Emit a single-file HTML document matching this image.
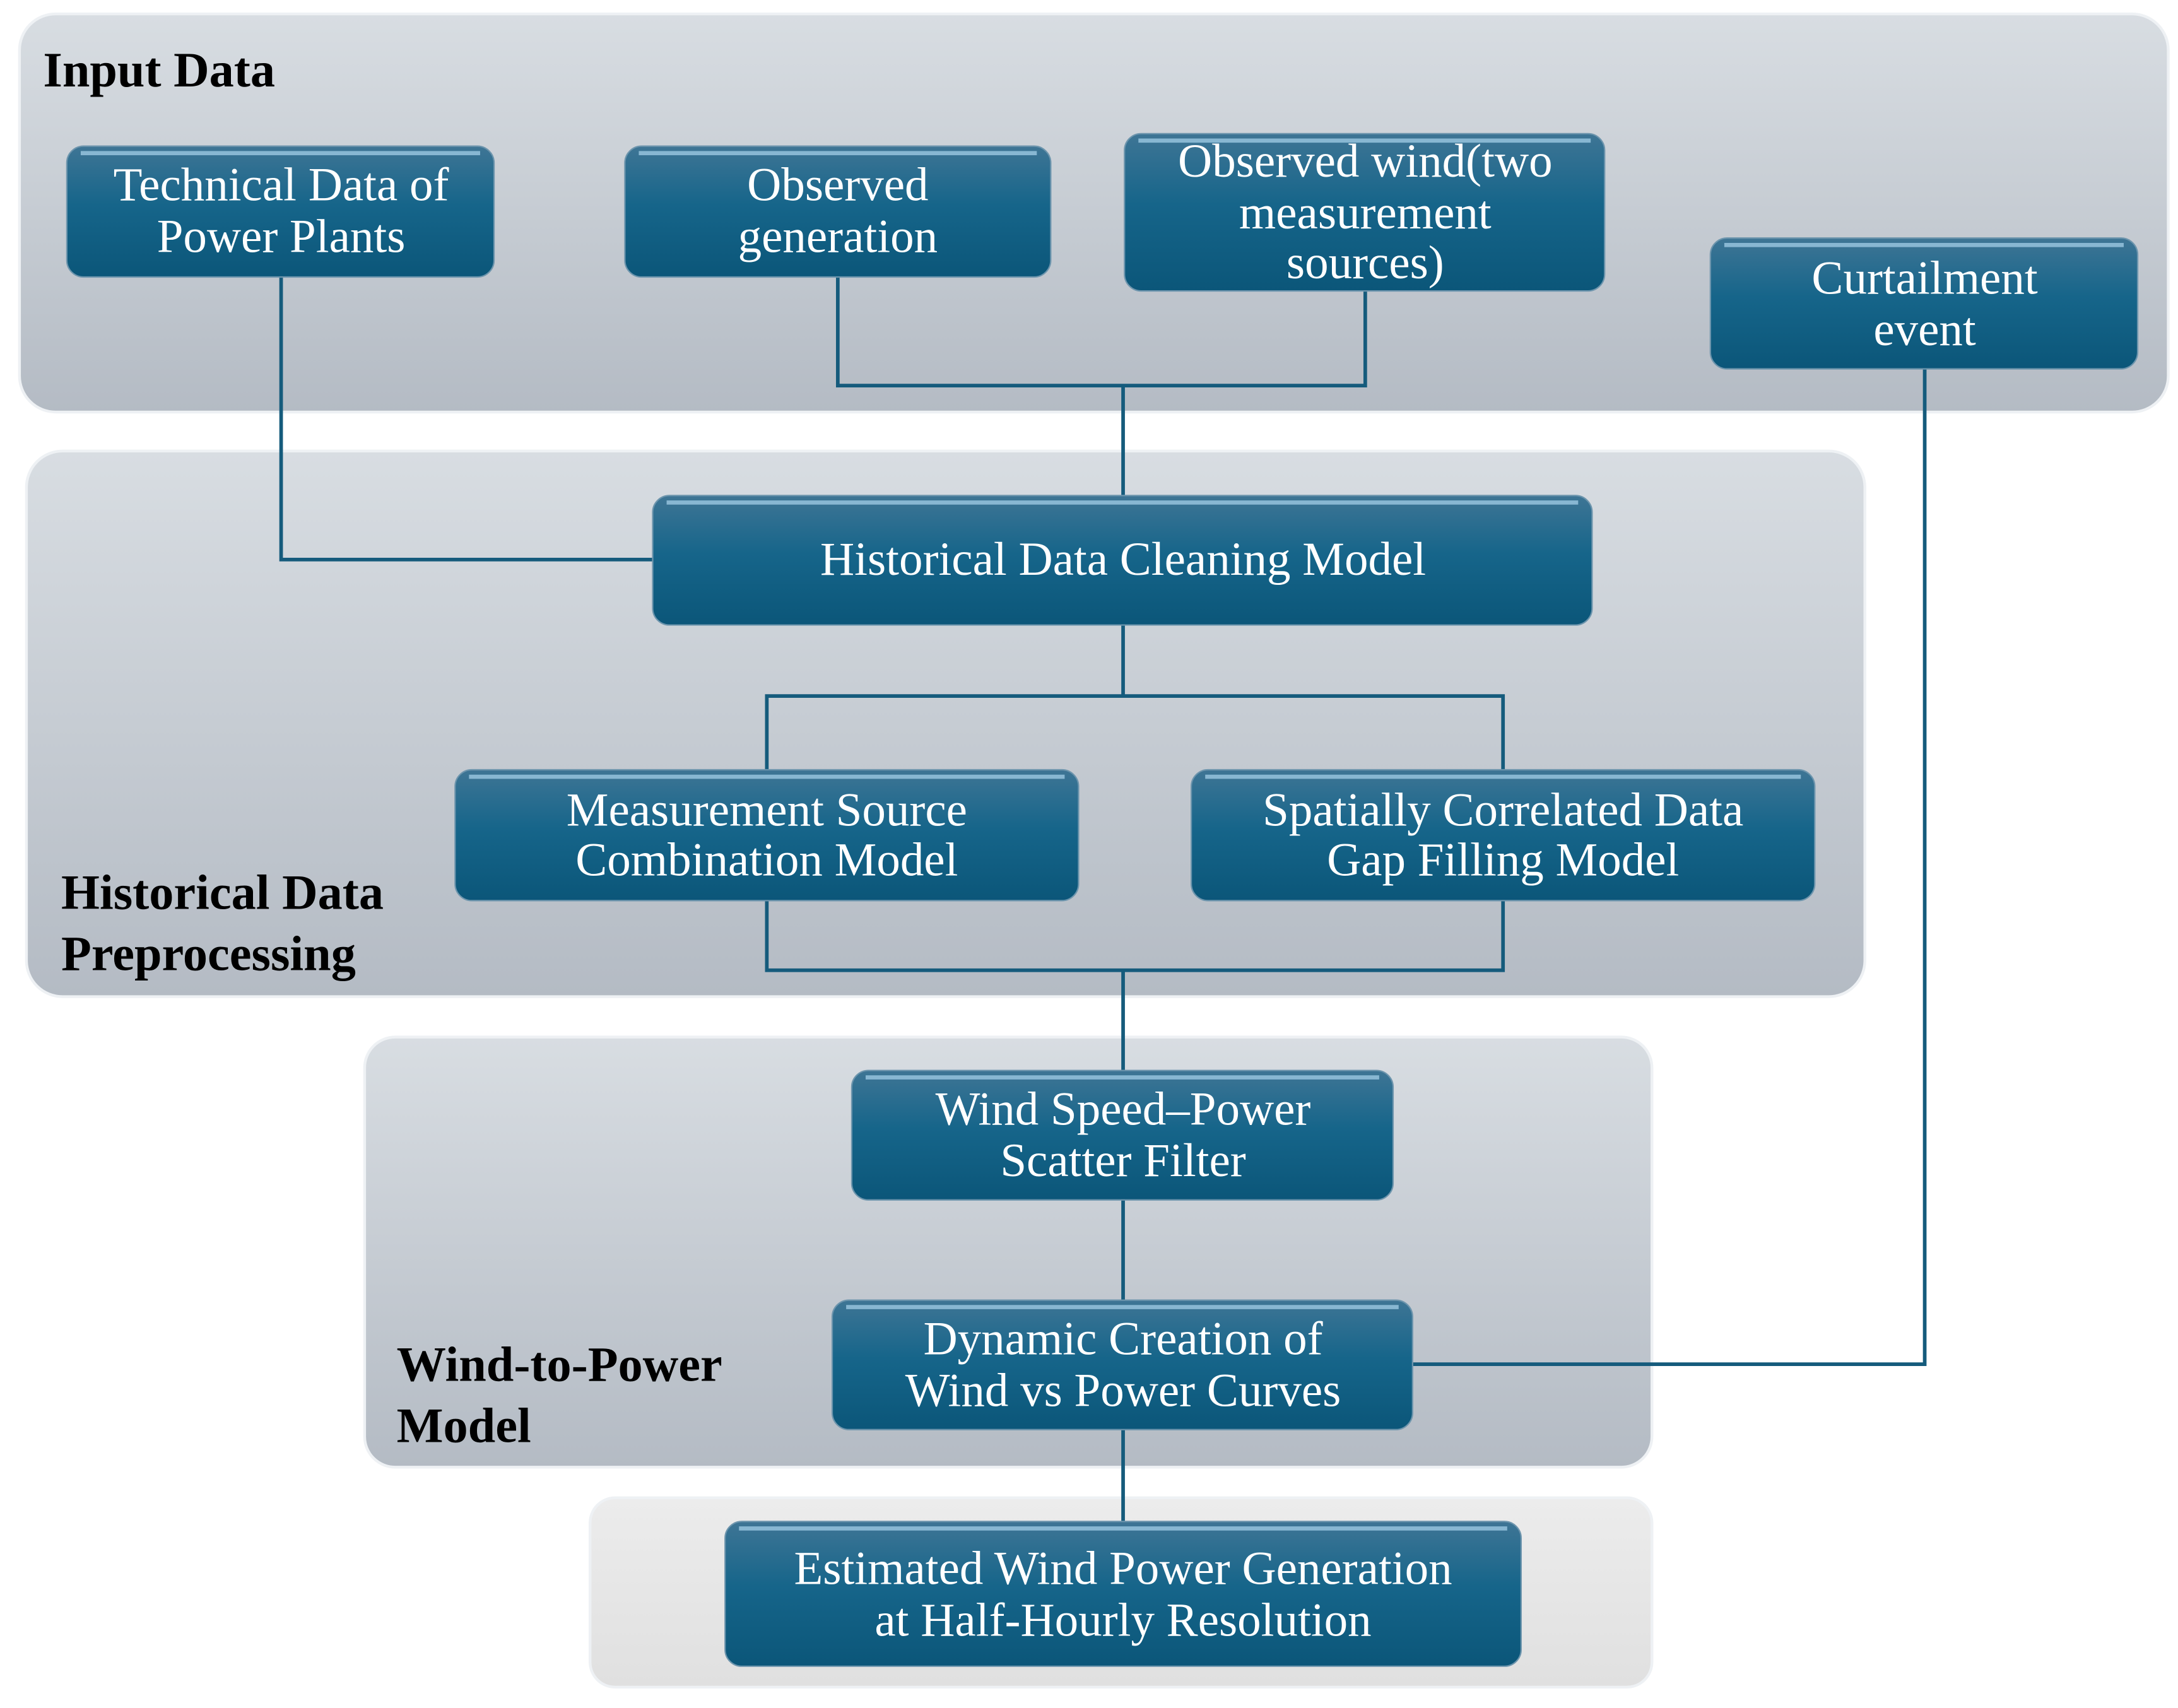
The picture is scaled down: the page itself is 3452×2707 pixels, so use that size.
<!DOCTYPE html>
<html><head><meta charset="utf-8"><style>
html,body{margin:0;padding:0;background:#fff;}
svg{display:block;}
text{font-family:"Liberation Serif",serif;}
.n{fill:#fff;font-size:34px;text-anchor:middle;}
.h{fill:#000;font-size:35.5px;font-weight:bold;}
.c{fill:none;stroke:#155b7c;stroke-width:2.6;}
</style></head><body>
<svg width="3452" height="2707" viewBox="0 0 1565 1227" preserveAspectRatio="none" xmlns="http://www.w3.org/2000/svg">
<defs>
<linearGradient id="g" x1="0" y1="0" x2="0" y2="1">
<stop offset="0" stop-color="#d8dde2"/><stop offset="1" stop-color="#b4bbc4"/></linearGradient>
<linearGradient id="g2" x1="0" y1="0" x2="0" y2="1">
<stop offset="0" stop-color="#ececec"/><stop offset="1" stop-color="#e0e0e0"/></linearGradient>
<linearGradient id="b" x1="0" y1="0" x2="0" y2="1">
<stop offset="0" stop-color="#3e7595"/><stop offset="0.45" stop-color="#16658a"/><stop offset="1" stop-color="#0b5679"/></linearGradient>
</defs>
<g stroke="#eef1f4" stroke-width="2">
<rect x="14" y="10" width="1544" height="286" rx="26" fill="url(#g)"/>
<rect x="19" y="324" width="1321" height="392" rx="26" fill="url(#g)"/>
<rect x="262" y="745" width="925" height="309" rx="22" fill="url(#g)"/>
<rect x="424" y="1076" width="763" height="136" rx="18" fill="url(#g2)"/>
</g>
<text class="h" x="31" y="62">Input Data</text>
<text class="h" x="44" y="653">Historical Data</text>
<text class="h" x="44" y="697">Preprocessing</text>
<text class="h" x="285" y="992">Wind-to-Power</text>
<text class="h" x="285" y="1036">Model</text>
<g class="c">
<polyline points="202,199 202,402 469,402"/>
<polyline points="602,199 602,277 981,277 981,209"/>
<polyline points="807,277 807,356"/>
<polyline points="807,449 807,500"/>
<polyline points="551,553 551,500 1080,500 1080,553"/>
<polyline points="551,647 551,697 1080,697 1080,647"/>
<polyline points="807,697 807,769"/>
<polyline points="807,862 807,934"/>
<polyline points="1383,265 1383,980 1015,980"/>
<polyline points="807,1027 807,1093"/>
</g>
<g fill="url(#b)" stroke="#6d95ad" stroke-width="1">
<rect x="48" y="105" width="307" height="94" rx="12"/>
<rect x="449" y="105" width="306" height="94" rx="12"/>
<rect x="808" y="96" width="345" height="113" rx="12"/>
<rect x="1229" y="171" width="307" height="94" rx="12"/>
<rect x="469" y="356" width="675" height="93" rx="12"/>
<rect x="327" y="553" width="448" height="94" rx="12"/>
<rect x="856" y="553" width="448" height="94" rx="12"/>
<rect x="612" y="769" width="389" height="93" rx="12"/>
<rect x="598" y="934" width="417" height="93" rx="12"/>
<rect x="521" y="1093" width="572" height="104" rx="12"/>
</g>
<g stroke="#9cc8e2" stroke-width="3" opacity="0.8">
<line x1="58" y1="110" x2="345" y2="110"/><line x1="459" y1="110" x2="745" y2="110"/>
<line x1="818" y1="101" x2="1143" y2="101"/><line x1="1239" y1="176" x2="1526" y2="176"/>
<line x1="479" y1="361" x2="1134" y2="361"/><line x1="337" y1="558" x2="765" y2="558"/>
<line x1="866" y1="558" x2="1294" y2="558"/><line x1="622" y1="774" x2="991" y2="774"/>
<line x1="608" y1="939" x2="1005" y2="939"/><line x1="531" y1="1098" x2="1083" y2="1098"/>
</g>
<text class="n" x="202" y="144">Technical Data of</text>
<text class="n" x="202" y="181">Power Plants</text>
<text class="n" x="602" y="144">Observed</text>
<text class="n" x="602" y="181">generation</text>
<text class="n" x="981" y="127">Observed wind(two</text>
<text class="n" x="981" y="164">measurement</text>
<text class="n" x="981" y="200">sources)</text>
<text class="n" x="1383" y="211">Curtailment</text>
<text class="n" x="1383" y="248">event</text>
<text class="n" x="807" y="413">Historical Data Cleaning Model</text>
<text class="n" x="551" y="593">Measurement Source</text>
<text class="n" x="551" y="629">Combination Model</text>
<text class="n" x="1080" y="593">Spatially Correlated Data</text>
<text class="n" x="1080" y="629">Gap Filling Model</text>
<text class="n" x="807" y="808">Wind Speed–Power</text>
<text class="n" x="807" y="845">Scatter Filter</text>
<text class="n" x="807" y="973">Dynamic Creation of</text>
<text class="n" x="807" y="1010">Wind vs Power Curves</text>
<text class="n" x="807" y="1138">Estimated Wind Power Generation</text>
<text class="n" x="807" y="1175">at Half-Hourly Resolution</text>
</svg>
</body></html>
